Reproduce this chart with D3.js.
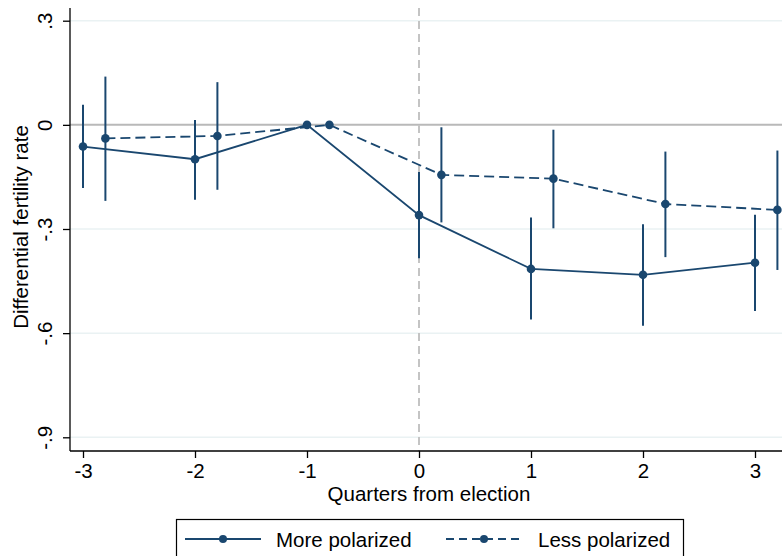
<!DOCTYPE html>
<html><head><meta charset="utf-8">
<script src="https://cdn.jsdelivr.net/npm/d3@7"></script>
<style>body{margin:0;background:#fff}svg{display:block}text{font-family:"Liberation Sans",Arial,sans-serif}</style>
</head><body><svg id="c" width="782" height="556"></svg>
<script>
const quarters = [-3, -2, -1, 0, 1, 2, 3];
const moreEst = [-0.0625, -0.099, 0, -0.260, -0.415, -0.432, -0.397];
const moreLo  = [-0.182, -0.216, 0, -0.384, -0.561, -0.579, -0.536];
const moreHi  = [0.058, 0.014, 0, -0.136, -0.267, -0.286, -0.259];
const lessEst = [-0.039, -0.032, 0, -0.144, -0.155, -0.228, -0.245];
const lessLo  = [-0.219, -0.187, 0, -0.281, -0.298, -0.381, -0.418];
const lessHi  = [0.139, 0.123, 0, -0.007, -0.014, -0.077, -0.074];
const lessOffset = 0.2;
const yTicks = [0.3, 0, -0.3, -0.6, -0.9];
const yTickLabels = [".3", "0", "-.3", "-.6", "-.9"];
const xTicks = [-3, -2, -1, 0, 1, 2, 3];
const seriesNames = ["More polarized", "Less polarized"];

const color = "#1a476f";
const fs = 20.5;
const svg = d3.select("#c");
const x = d3.scaleLinear().domain([-3, 3]).range([83, 755]);
const y = d3.scaleLinear().domain([0.3, -0.9]).range([20.7, 437.3]);
const pLeft = 70, pBottom = 451, pRight = 782, pTop = 8;

// gridlines
svg.append("g").selectAll("line").data(yTicks.filter(d => d !== 0)).join("line")
  .attr("x1", pLeft).attr("x2", pRight).attr("y1", d => y(d)).attr("y2", d => y(d))
  .attr("stroke", "#eaf2f3").attr("stroke-width", 1.5);
// zero line
svg.append("line").attr("x1", pLeft).attr("x2", pRight).attr("y1", y(0)).attr("y2", y(0))
  .attr("stroke", "#b9b9b9").attr("stroke-width", 2);
// vertical dashed at 0
svg.append("line").attr("x1", x(0)).attr("x2", x(0)).attr("y1", pTop).attr("y2", pBottom)
  .attr("stroke", "#c4c4c4").attr("stroke-width", 2).attr("stroke-dasharray", "8,5");

// y axis
const yAxis = d3.axisLeft(y).tickValues(yTicks).tickFormat((d, i) => yTickLabels[i]).tickSize(7).tickSizeOuter(0);
const gy = svg.append("g").attr("transform", `translate(${pLeft},0)`).call(yAxis);
gy.select(".domain").remove();
gy.append("line").attr("x1", 0).attr("x2", 0).attr("y1", pTop).attr("y2", pBottom).attr("stroke", "#000").attr("stroke-width", 1.3);
gy.selectAll(".tick line").attr("stroke", "#000").attr("stroke-width", 1.3);
gy.selectAll(".tick text").attr("font-size", fs).attr("fill", "#000")
  .attr("x", null).attr("dy", null)
  .attr("text-anchor", "middle")
  .attr("transform", "translate(-18,0) rotate(-90)")
  .attr("y", 0);

// x axis
const xAxis = d3.axisBottom(x).tickValues(xTicks).tickFormat(d => d < 0 ? "-" + Math.abs(d) : String(d)).tickSize(7).tickSizeOuter(0);
const gx = svg.append("g").attr("transform", `translate(0,${pBottom})`).call(xAxis);
gx.select(".domain").remove();
gx.append("line").attr("x1", pLeft).attr("x2", pRight).attr("y1", 0).attr("y2", 0).attr("stroke", "#000").attr("stroke-width", 1.3);
gx.selectAll(".tick line").attr("stroke", "#000").attr("stroke-width", 1.3);
gx.selectAll(".tick text").attr("font-size", fs).attr("fill", "#000").attr("y", 27).attr("dy", null);

// titles
svg.append("text").attr("x", 429).attr("y", 501).attr("text-anchor", "middle").attr("font-size", fs).text("Quarters from election");
svg.append("text").attr("transform", "translate(28,227) rotate(-90)").attr("text-anchor", "middle").attr("font-size", fs).text("Differential fertility rate");

// data
const more = quarters.map((q, i) => ({x: q, est: moreEst[i], lo: moreLo[i], hi: moreHi[i]}));
const less = quarters.map((q, i) => ({x: q + lessOffset, est: lessEst[i], lo: lessLo[i], hi: lessHi[i]}));
const line = d3.line().x(d => x(d.x)).y(d => y(d.est));

function drawSeries(data, dash) {
  const g = svg.append("g");
  g.selectAll("line.ci").data(data.filter(d => d.lo !== d.hi)).join("line").attr("class", "ci")
    .attr("x1", d => x(d.x)).attr("x2", d => x(d.x)).attr("y1", d => y(d.lo)).attr("y2", d => y(d.hi))
    .attr("stroke", color).attr("stroke-width", 2);
  g.append("path").datum(data).attr("d", line).attr("fill", "none").attr("stroke", color)
    .attr("stroke-width", 1.8).attr("stroke-dasharray", dash);
  g.selectAll("circle").data(data).join("circle").attr("cx", d => x(d.x)).attr("cy", d => y(d.est))
    .attr("r", 4.3).attr("fill", color);
}
drawSeries(more, null);
drawSeries(less, "10,5");

// legend
const lg = svg.append("g");
lg.append("rect").attr("x", 176.5).attr("y", 519.5).attr("width", 507).attr("height", 50)
  .attr("fill", "#fff").attr("stroke", "#000").attr("stroke-width", 1.2);
const items = [{x0: 185, x1: 261, text: seriesNames[0], tx: 276, dash: null},
               {x0: 446, x1: 522, text: seriesNames[1], tx: 538, dash: "8,5"}];
items.forEach(it => {
  lg.append("line").attr("x1", it.x0).attr("x2", it.x1).attr("y1", 539).attr("y2", 539)
    .attr("stroke", color).attr("stroke-width", 1.8).attr("stroke-dasharray", it.dash);
  lg.append("circle").attr("cx", (it.x0 + it.x1) / 2).attr("cy", 539).attr("r", 4).attr("fill", color);
  lg.append("text").attr("x", it.tx).attr("y", 546.5).attr("font-size", fs).text(it.text);
});
</script></body></html>
